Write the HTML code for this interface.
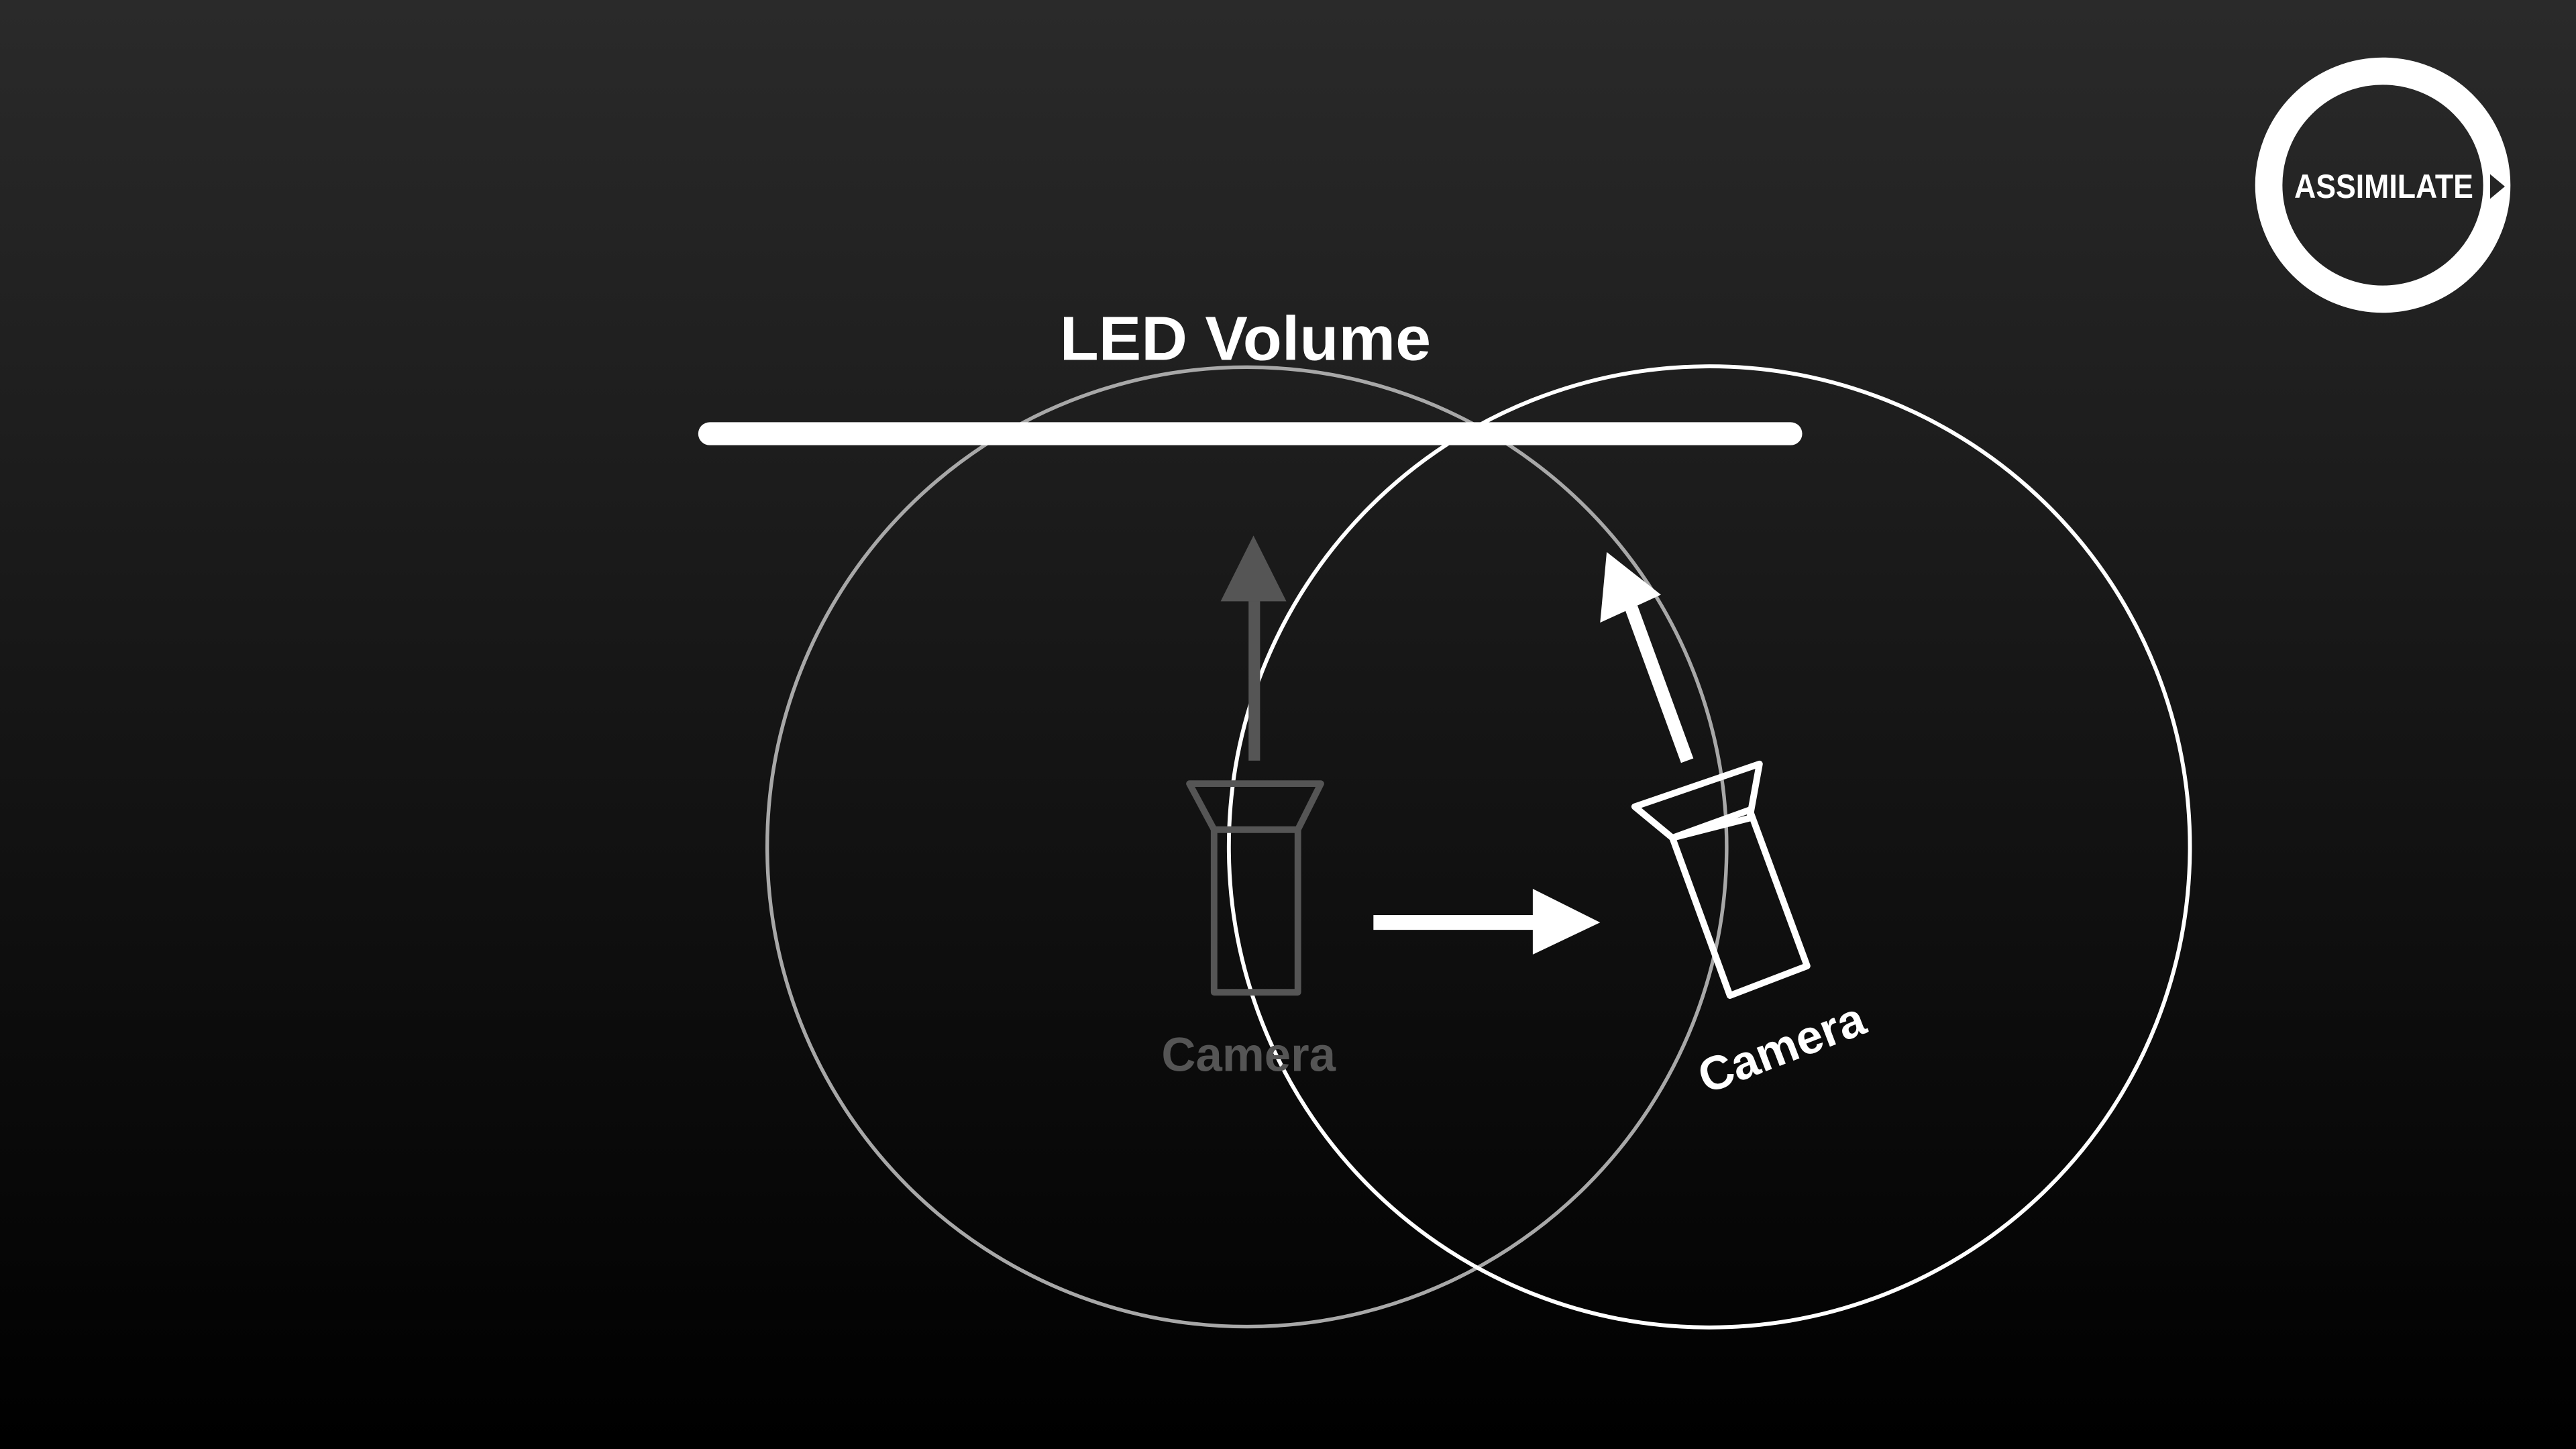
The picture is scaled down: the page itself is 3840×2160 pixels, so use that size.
<!DOCTYPE html>
<html><head><meta charset="utf-8"><style>
html,body{margin:0;padding:0;background:#000;}
svg{display:block;}
text{font-family:"Liberation Sans",sans-serif;font-weight:bold;}
</style></head><body>
<svg width="3840" height="2160" viewBox="0 0 1568 882" xmlns="http://www.w3.org/2000/svg">
<defs><linearGradient id="bg" x1="0" y1="0" x2="0" y2="1"><stop offset="0" stop-color="#2a2a2a"/><stop offset="1" stop-color="#000"/></linearGradient></defs>
<rect x="0" y="0" width="1568" height="882" fill="url(#bg)"/>
<g>
<circle cx="1450.4" cy="112.7" r="69.4" fill="none" stroke="#fff" stroke-width="16.6"/>
<text x="1396.5" y="120.5" font-size="20.5" fill="#fff" textLength="109" lengthAdjust="spacingAndGlyphs">ASSIMILATE</text>
<polygon points="1515.7,106 1515.7,121 1524.7,113.5" fill="#252525"/>
</g>
<text x="758" y="219" font-size="38" fill="#fff" text-anchor="middle" textLength="226" lengthAdjust="spacingAndGlyphs">LED Volume</text>
<circle cx="759" cy="515.5" r="292" fill="none" stroke="#a8a8a8" stroke-width="2.2"/>
<circle cx="1040.5" cy="515.5" r="292.5" fill="none" stroke="#fff" stroke-width="2.4"/>
<line x1="432" y1="264" x2="1090" y2="264" stroke="#fff" stroke-width="14" stroke-linecap="round"/>
<g stroke="#555" stroke-width="4" fill="none" stroke-linejoin="round">
<polygon points="724,477 804,477 790,505 739,505"/>
<rect x="739" y="505" width="51" height="99"/>
</g>
<g fill="#555">
<rect x="760" y="364" width="7" height="99"/>
<polygon points="743,366 783,366 763,326"/>
</g>
<text x="760" y="652" font-size="29" fill="#555" text-anchor="middle" textLength="106" lengthAdjust="spacingAndGlyphs">Camera</text>
<g fill="#fff">
<rect x="836" y="557" width="99" height="9"/>
<polygon points="933,541 933,581 974,561.5"/>
</g>
<g stroke="#fff" stroke-width="4" fill="none" stroke-linejoin="round">
<polygon points="995,491 1071,465 1065,498 1018,510"/>
<polygon points="1018,510 1065,493 1100,588 1053,606"/>
</g>
<g fill="#fff">
<line x1="1027" y1="463" x2="993" y2="370" stroke="#fff" stroke-width="8"/>
<polygon points="978,336 974,379 1011,362"/>
</g>
<text transform="translate(1088,647) rotate(-21)" font-size="29" fill="#fff" text-anchor="middle" textLength="106" lengthAdjust="spacingAndGlyphs">Camera</text>
</svg>
</body></html>
